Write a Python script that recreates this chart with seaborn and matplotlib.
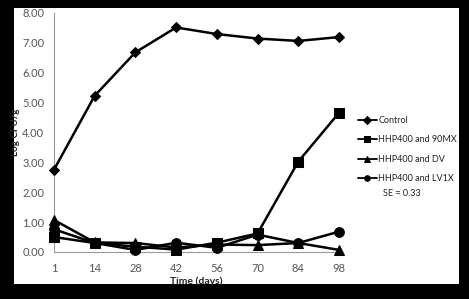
import numpy as np
import pandas as pd
import matplotlib
matplotlib.use('Agg')
import matplotlib.pyplot as plt
import seaborn as sns

days = ['1', '14', '28', '42', '56', '70', '84', '98']
control = [2.75, 5.22, 6.67, 7.50, 7.28, 7.13, 7.05, 7.18]
hhp_90mx = [0.50, 0.30, 0.18, 0.08, 0.31, 0.62, 3.02, 4.65]
hhp_dv = [1.07, 0.32, 0.30, 0.15, 0.25, 0.23, 0.30, 0.07]
hhp_lv1x = [0.76, 0.30, 0.07, 0.31, 0.14, 0.58, 0.30, 0.68]
names = ['Control', 'HHP400 and 90MX', 'HHP400 and DV', 'HHP400 and LV1X']
se_text = 'SE = 0.33'

series = [control, hhp_90mx, hhp_dv, hhp_lv1x]
rows = []
for name, vals in zip(names, series):
    for i, v in enumerate(vals):
        rows.append({'pos': i, 'val': v, 'treat': name})
df = pd.DataFrame(rows)

sns.set_style('white')
plt.rcParams['font.family'] = ['Lato', 'DejaVu Sans']

fig = plt.figure(figsize=(4.69, 2.99), dpi=100)
fig.patch.set_facecolor('black')
# white plot area inside the black frame
bg = fig.add_axes([14 / 469, 15 / 299, 445 / 469, 276 / 299], zorder=0)
bg.set_facecolor('white')
bg.set_xticks([])
bg.set_yticks([])
for s in bg.spines.values():
    s.set_visible(False)

ax = fig.add_axes([54 / 469, 47 / 299, 285 / 469, 239.5 / 299], zorder=1)
ax.set_facecolor('none')

markers = {'Control': 'D', 'HHP400 and 90MX': 's', 'HHP400 and DV': '^', 'HHP400 and LV1X': 'o'}
sizes = {'Control': 5, 'HHP400 and 90MX': 6.5, 'HHP400 and DV': 7, 'HHP400 and LV1X': 7}
for name in names:
    sns.lineplot(data=df[df['treat'] == name], x='pos', y='val', ax=ax, color='black',
                 marker=markers[name], markersize=sizes[name], linewidth=1.8,
                 markeredgecolor='black', label=name, clip_on=False, zorder=3)

ax.set_xlim(0, len(days) - 1)
ax.set_ylim(0, 8)
ax.set_xticks(range(len(days)))
ax.set_xticklabels(days)
ax.set_yticks(np.arange(0, 9, 1))
ax.set_yticklabels(['%.2f' % v for v in np.arange(0, 9, 1)])
ax.tick_params(axis='both', labelsize=8, colors='#555555', length=3, width=0.6,
               direction='out', pad=4)
ax.tick_params(axis='x', length=0, pad=8)
ax.set_xlabel('Time (days)', fontsize=7.5, fontweight='bold', color='#222222', labelpad=2)
ax.set_ylabel('Log CFU/g', fontsize=7, fontweight='bold', color='#222222')
ax.yaxis.set_label_coords(-0.12, 0.5)
for s in ['top', 'right']:
    ax.spines[s].set_visible(False)
for s in ['left', 'bottom']:
    ax.spines[s].set_color('#999999')
    ax.spines[s].set_linewidth(0.8)

leg = ax.legend(loc='upper left', bbox_to_anchor=(358 / 469, 1 - 116 / 299),
                bbox_transform=fig.transFigure, frameon=False, fontsize=6.5,
                handlelength=2.1, handletextpad=0.15, labelspacing=1.15,
                borderaxespad=0, borderpad=0)
for t in leg.get_texts():
    t.set_color('#222222')
for h in leg.legend_handles:
    h.set_markersize(4)
    h.set_linewidth(1.3)
fig.text(383 / 469, 1 - 193 / 299, se_text, fontsize=6.5, color='#222222', va='center')

fig.savefig('out.png', dpi=100, facecolor='black')
